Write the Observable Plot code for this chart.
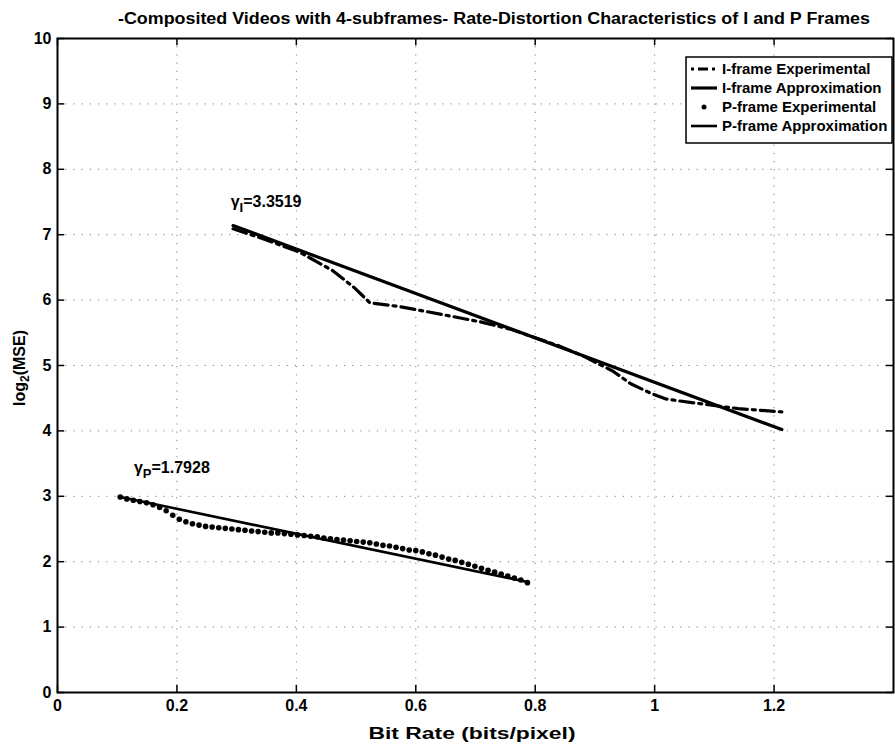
<!DOCTYPE html>
<html><head><meta charset="utf-8">
<script src="https://cdn.jsdelivr.net/npm/d3@7"></script>
<script src="https://cdn.jsdelivr.net/npm/@observablehq/plot@0.6"></script>
<style>body{margin:0;background:#fff} svg{display:block}</style>
</head><body><div id="chart"></div>
<script>
// ---- data ----
const titleText = "-Composited Videos with 4-subframes- Rate-Distortion Characteristics of I and P Frames";
const xLabelText = "Bit Rate (bits/pixel)";
const xTicks = [0, 0.2, 0.4, 0.6, 0.8, 1, 1.2];
const xTickLabels = ["0", "0.2", "0.4", "0.6", "0.8", "1", "1.2"];
const yTicks = [0, 1, 2, 3, 4, 5, 6, 7, 8, 9, 10];
const yTickLabels = ["0", "1", "2", "3", "4", "5", "6", "7", "8", "9", "10"];

const iExpX = [0.294, 0.35, 0.406, 0.461, 0.497, 0.523, 0.573, 0.65, 0.712, 0.76, 0.801, 0.84, 0.879, 0.929, 0.96, 0.995, 1.018, 1.04, 1.09, 1.14, 1.213];
const iExpY = [7.09, 6.92, 6.73, 6.45, 6.19, 5.96, 5.9, 5.77, 5.66, 5.55, 5.42, 5.3, 5.15, 4.92, 4.72, 4.57, 4.49, 4.46, 4.4, 4.34, 4.29];

const iApproxX = [0.294, 1.213];
const iApproxY = [7.14, 4.02];

const pExpX = [0.105, 0.116, 0.127, 0.138, 0.149, 0.160, 0.171, 0.182, 0.193, 0.204, 0.215, 0.226, 0.237, 0.248, 0.259, 0.270, 0.281, 0.292, 0.303, 0.314, 0.325, 0.336, 0.347, 0.358, 0.369, 0.380, 0.391, 0.402, 0.413, 0.424, 0.435, 0.446, 0.457, 0.468, 0.479, 0.490, 0.501, 0.512, 0.523, 0.534, 0.545, 0.556, 0.567, 0.578, 0.589, 0.600, 0.611, 0.622, 0.633, 0.644, 0.655, 0.666, 0.677, 0.688, 0.699, 0.710, 0.721, 0.732, 0.743, 0.754, 0.765, 0.776, 0.787];
const pExpY = [2.99, 2.96, 2.94, 2.92, 2.90, 2.87, 2.83, 2.78, 2.71, 2.65, 2.61, 2.58, 2.56, 2.54, 2.53, 2.52, 2.51, 2.50, 2.49, 2.48, 2.47, 2.46, 2.45, 2.44, 2.44, 2.43, 2.42, 2.41, 2.40, 2.39, 2.38, 2.36, 2.35, 2.34, 2.33, 2.32, 2.31, 2.30, 2.29, 2.27, 2.25, 2.24, 2.22, 2.20, 2.18, 2.17, 2.15, 2.12, 2.10, 2.07, 2.04, 2.02, 1.99, 1.96, 1.93, 1.90, 1.87, 1.84, 1.81, 1.78, 1.75, 1.72, 1.68];

const pApproxX = [0.105, 0.787];
const pApproxY = [2.99, 1.69];

const annotNames = ["γ", "γ"];
const annotSubs = ["I", "P"];
const annotValues = ["=3.3519", "=1.7928"];
const annotX = [0.29, 0.128];
const annotY = [7.5, 3.44];

const legendLabels = ["I-frame Experimental", "I-frame Approximation", "P-frame Experimental", "P-frame Approximation"];

// ---- tables built from the arrays ----
const iExp = iExpX.map((x, i) => ({x, y: iExpY[i]}));
const iApprox = iApproxX.map((x, i) => ({x, y: iApproxY[i]}));
const pExp = pExpX.map((x, i) => ({x, y: pExpY[i]}));
const pApprox = pApproxX.map((x, i) => ({x, y: pApproxY[i]}));
const annots = annotX.map((x, i) => ({x, y: annotY[i], label: annotNames[i] + annotSubs[i] + annotValues[i]}));

const FONT = "'Liberation Sans', Arial, Helvetica, sans-serif";
const DASHDOT = "14,5,3,5";
const GRID = {stroke: "#000", strokeOpacity: 0.5, strokeWidth: 1, strokeDasharray: "1.2,7"};

const svg = Plot.plot({
  width: 895, height: 745,
  marginTop: 38, marginBottom: 53, marginLeft: 57, marginRight: 2,
  style: {fontFamily: FONT, fontSize: "16px", fontWeight: "bold", color: "#000", background: "#fff"},
  x: {domain: [0, 1.4]},
  y: {domain: [0, 10]},
  marks: [
    // dotted grid
    Plot.ruleX(xTicks.filter(d => d > 0), {x: d => d, ...GRID}),
    Plot.ruleY(yTicks.filter(d => d > 0 && d < 10), {y: d => d, ...GRID}),
    // inward ticks (bottom/top/left/right)
    Plot.ruleX(xTicks, {x: d => d, y1: 0, y2: 0.11, stroke: "#000", strokeWidth: 1.5}),
    Plot.ruleX(xTicks, {x: d => d, y1: 10, y2: 9.89, stroke: "#000", strokeWidth: 1.5}),
    Plot.ruleY(yTicks, {y: d => d, x1: 0, x2: 0.012, stroke: "#000", strokeWidth: 1.5}),
    Plot.ruleY(yTicks, {y: d => d, x1: 1.4, x2: 1.388, stroke: "#000", strokeWidth: 1.5}),
    // data
    Plot.line(iApprox, {x: "x", y: "y", stroke: "#000", strokeWidth: 3.2}),
    Plot.line(iExp, {x: "x", y: "y", stroke: "#000", strokeWidth: 3.2, strokeDasharray: DASHDOT, curve: "linear"}),
    Plot.line(pApprox, {x: "x", y: "y", stroke: "#000", strokeWidth: 2.6}),
    Plot.dot(pExp, {x: "x", y: "y", r: 2.8, fill: "#000", stroke: "none"}),
    Plot.text(annots, {x: "x", y: "y", text: "label", textAnchor: "start", fontSize: 16, fontWeight: "bold", fill: "#000"}),
    Plot.frame({stroke: "#000", strokeWidth: 2}),
    Plot.axisX({ticks: xTicks, tickSize: 0, tickPadding: 7, label: null,
      tickFormat: d => { const i = xTicks.indexOf(d); return i >= 0 ? xTickLabels[i] : String(d); },
      fontSize: 16, fontWeight: "bold"}),
    Plot.axisY({ticks: yTicks, tickSize: 0, tickPadding: 6, label: null,
      tickFormat: d => { const i = yTicks.indexOf(d); return i >= 0 ? yTickLabels[i] : String(d); },
      fontSize: 16, fontWeight: "bold"})
  ]
});

const s = d3.select(svg);

// subscripts in annotations
s.selectAll("text").each(function () {
  const t = this.textContent;
  const k = annots.findIndex(a => a.label === t);
  if (k < 0 || this.querySelector("tspan")) return;
  const el = d3.select(this);
  el.text(null);
  el.append("tspan").text(annotNames[k]);
  el.append("tspan").attr("dy", 5).attr("font-size", 13).text(annotSubs[k]);
  el.append("tspan").attr("dy", -5).text(annotValues[k]);
});

// title
s.append("text").attr("x", 494).attr("y", 18).attr("dy", "0.35em")
  .attr("text-anchor", "middle").attr("font-size", 16).attr("font-weight", "bold")
  .attr("font-family", FONT).attr("fill", "#000")
  .attr("textLength", 752).attr("lengthAdjust", "spacingAndGlyphs")
  .text(titleText);

// x label
s.append("text").attr("x", 472).attr("y", 733).attr("dy", "0.35em")
  .attr("text-anchor", "middle").attr("font-size", 16).attr("font-weight", "bold")
  .attr("font-family", FONT).attr("fill", "#000")
  .attr("textLength", 207).attr("lengthAdjust", "spacingAndGlyphs")
  .text(xLabelText);

// y label with subscript
const yl = s.append("text").attr("transform", "translate(19,368) rotate(-90)")
  .attr("text-anchor", "middle").attr("dy", "0.35em")
  .attr("font-size", 16).attr("font-weight", "bold").attr("font-family", FONT).attr("fill", "#000");
yl.append("tspan").text("log");
yl.append("tspan").attr("dy", 4).attr("font-size", 12).text("2");
yl.append("tspan").attr("dy", -4).text("(MSE)");

// legend
const lg = s.append("g").attr("font-family", FONT).attr("font-size", 15).attr("font-weight", "bold")
  .attr("text-anchor", "start");
lg.append("rect").attr("x", 686).attr("y", 57).attr("width", 206).attr("height", 86)
  .attr("fill", "#fff").attr("stroke", "#000").attr("stroke-width", 1.5);
const rowY = [69, 88, 107, 126];
legendLabels.forEach((lab, i) => {
  const y = rowY[i];
  if (i === 0) {
    lg.append("line").attr("x1", 691).attr("x2", 717).attr("y1", y).attr("y2", y)
      .attr("stroke", "#000").attr("stroke-width", 3).attr("stroke-dasharray", "3,4,10,4,3");
  } else if (i === 1) {
    lg.append("line").attr("x1", 691).attr("x2", 717).attr("y1", y).attr("y2", y)
      .attr("stroke", "#000").attr("stroke-width", 3.2);
  } else if (i === 2) {
    lg.append("circle").attr("cx", 704).attr("cy", y).attr("r", 2.5).attr("fill", "#000");
  } else {
    lg.append("line").attr("x1", 691).attr("x2", 717).attr("y1", y).attr("y2", y)
      .attr("stroke", "#000").attr("stroke-width", 2.6);
  }
  lg.append("text").attr("x", 722).attr("y", y).attr("dy", "0.35em")
    .attr("text-anchor", "start").attr("fill", "#000").text(lab);
});

document.getElementById("chart").appendChild(svg);
</script>
</body></html>
